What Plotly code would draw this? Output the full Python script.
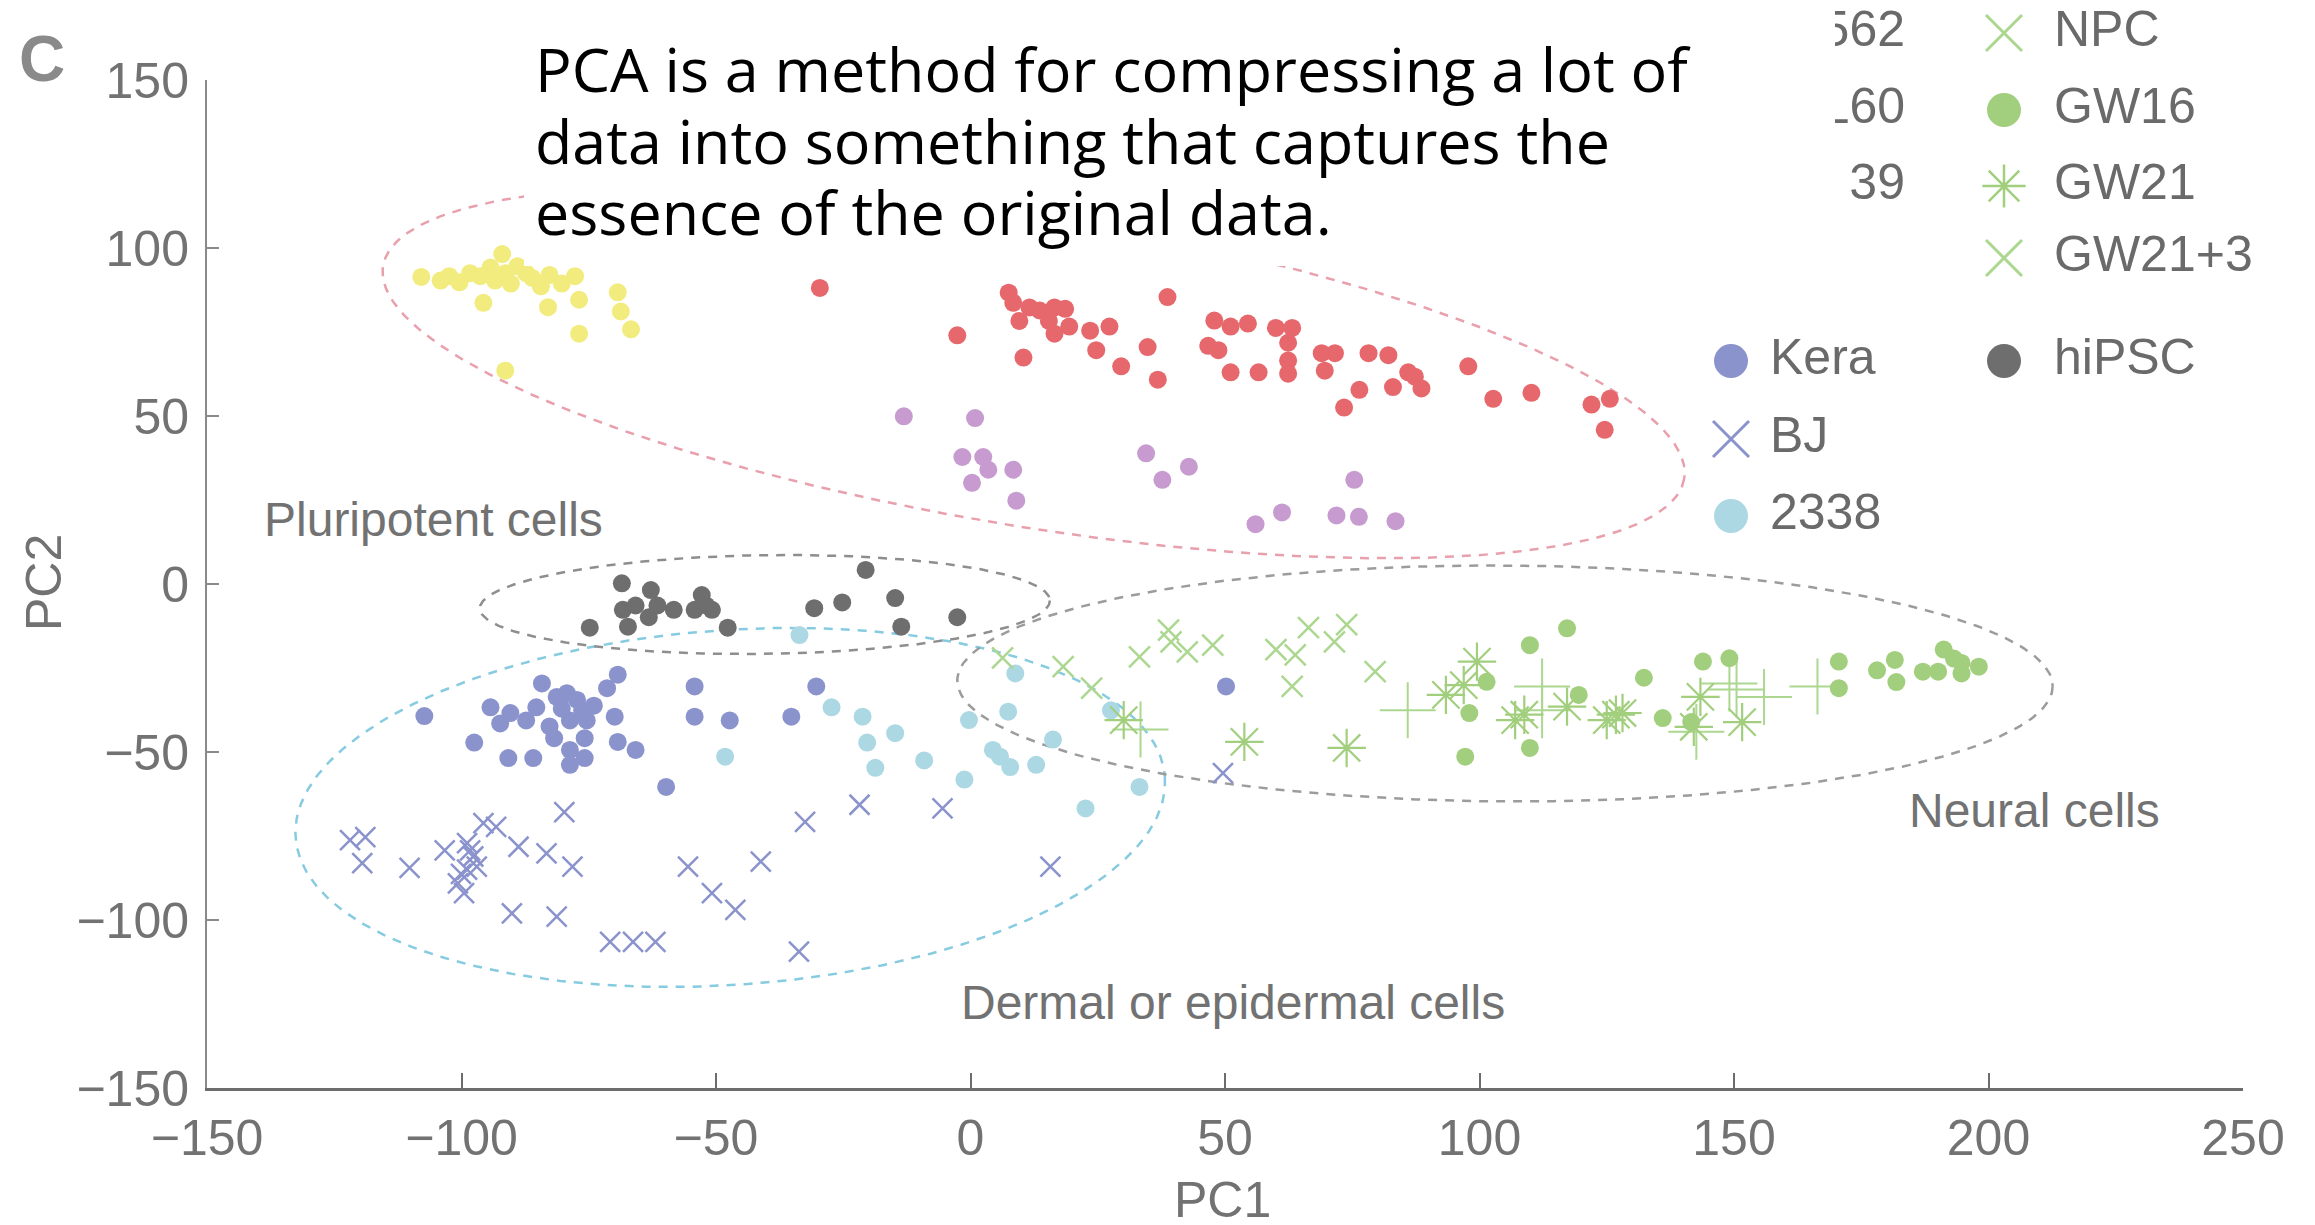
import numpy as np
import plotly.graph_objects as go

# ---------------- data ----------------
k562_x = [-107.9, -102.4, -100.4, -96.3, -95.7, -94.3, -92.0, -91.4, -90.3, -87.3, -84.4, -83.0, -80.3,
          -77.7, -76.9, -76.9, -69.3, -68.7, -66.7, -91.4, -89.0, -98.3, -93.4, -104.1, -86.1, -82.7]
k562_y = [91.4, 91.6, 89.8, 91.6, 83.7, 94.2, 98.2, 92.5, 89.4, 92.5, 88.6, 82.4, 89.4,
          91.6, 84.6, 74.5, 86.8, 81.1, 75.8, 63.5, 94.6, 92.5, 90.3, 90.3, 91.1, 92.0]

hl60_x = [-29.6, -2.6, 7.5, 8.4, 11.6, 13.6, 16.5, 18.6, 9.6, 15.4, 19.4, 10.4, 16.5, 23.5, 24.7, 29.6,
          27.3, 34.8, 36.8, 38.7, 47.9, 51.1, 54.5, 60.0, 63.2, 46.7, 48.7, 51.1, 56.6, 62.4, 62.4, 62.4,
          69.0, 71.6, 69.6, 78.2, 82.1, 76.4, 73.4, 83.0, 86.0, 87.3, 88.6, 97.8, 102.7, 110.2, 122.0,
          125.6, 124.6]
hl60_y = [88.1, 74.0, 86.7, 83.7, 82.3, 81.4, 82.3, 81.9, 78.3, 78.3, 76.6, 67.4, 74.5, 75.4, 69.6, 64.8,
          76.6, 70.5, 60.8, 85.4, 78.4, 76.6, 77.5, 76.2, 76.2, 70.9, 69.6, 63.0, 63.0, 71.8, 66.5, 62.6,
          68.7, 68.7, 63.5, 68.7, 68.1, 57.8, 52.5, 58.6, 63.0, 61.7, 58.2, 64.8, 55.1, 56.9, 53.4,
          55.1, 45.9]

hues39_x = [-13.1, 0.9, -1.6, 2.5, 3.5, 0.3, 8.4, 9.0, 34.5, 42.9, 37.7, 75.4, 56.0, 61.2, 71.9, 76.3, 83.5]
hues39_y = [49.9, 49.4, 37.8, 37.8, 34.0, 30.1, 34.0, 24.8, 38.9, 34.9, 31.0, 31.0, 17.8, 21.3, 20.4, 20.0, 18.7]

hipsc_x = [-74.8, -68.5, -62.8, -68.3, -65.8, -63.2, -58.3, -52.8, -54.2, -50.8, -47.7, -67.3, -30.7,
           -25.2, -20.6, -14.8, -13.6, -2.6, -51.9, -61.5]
hipsc_y = [-13.0, 0.2, -1.8, -7.7, -6.4, -9.9, -7.7, -3.3, -7.7, -7.7, -13.0, -12.7, -7.2,
           -5.5, 4.2, -4.2, -12.7, -9.9, -6.4, -6.4]

kera_x = [-107.3, -94.3, -90.4, -92.4, -87.3, -84.2, -85.3, -81.3, -79.3, -77.3, -76.3, -78.7, -75.4,
          -71.4, -69.3, -69.9, -97.5, -90.8, -85.9, -81.8, -78.7, -75.8, -78.7, -75.8, -69.3, -65.8,
          -59.8, -54.2, -54.2, -47.3, -35.2, -30.3, 50.2, -80.3, -82.7, -74.0]
kera_y = [-39.3, -36.7, -38.4, -41.5, -40.6, -29.6, -36.7, -33.6, -32.5, -34.5, -37.6, -40.6, -40.6,
          -31.0, -27.0, -39.5, -47.2, -51.8, -51.8, -45.9, -49.4, -45.9, -53.8, -51.8, -47.0, -49.4,
          -60.4, -30.5, -39.5, -40.6, -39.5, -30.5, -30.5, -37.1, -42.4, -36.2]

bj_x = [-121.9, -118.9, -119.5, -110.2, -103.3, -98.9, -98.3, -98.9, -100.7, -99.5, -97.0, -95.7, -93.2,
        -88.8, -83.3, -78.2, -79.8, -90.1, -81.3, -70.8, -66.3, -61.9, -55.5, -50.8, -46.2, -41.2,
        -32.5, -33.7, -21.8, -5.5, 15.7, 49.6, -100.1, -97.7]
bj_y = [-76.2, -75.3, -83.1, -84.5, -79.3, -77.1, -79.3, -85.0, -89.1, -92.0, -84.1, -71.2, -72.3,
        -78.2, -80.2, -84.1, -67.9, -98.0, -99.0, -106.5, -106.5, -106.5, -84.1, -92.0, -97.0, -82.6,
        -70.8, -109.4, -65.7, -66.8, -84.1, -56.3, -86.3, -81.1]

c2338_x = [-33.6, -48.2, -27.3, -21.2, -20.3, -14.8, -18.7, -9.1, -1.2, -0.3, 4.4, 5.8, 7.8, 12.9,
           7.4, 8.8, 16.2, 33.2, 22.6, 27.6]
c2338_y = [-15.2, -51.4, -36.7, -39.5, -47.2, -44.4, -54.7, -52.5, -58.2, -40.5, -49.4, -51.4, -54.5,
           -53.8, -38.0, -26.6, -46.3, -60.4, -66.8, -37.6]

npc_x = [6.3, 18.2, 23.8, 33.2, 38.9, 39.4, 42.6, 47.6, 60.0, 63.8, 63.2, 66.4, 71.5, 73.9, 79.5]
npc_y = [-22.0, -24.6, -31.0, -21.7, -13.7, -17.2, -20.2, -18.2, -19.5, -21.1, -30.5, -13.0, -17.2,
         -12.1, -26.1]

gw16_x = [117.2, 109.9, 101.4, 98.0, 97.2, 109.9, 119.5, 132.3, 143.9, 149.1, 136.0, 141.6, 170.6,
          170.6, 178.1, 181.6, 181.9, 187.1, 190.1, 191.2, 193.2, 194.7, 194.7, 198.1]
gw16_y = [-13.2, -18.2, -29.1, -38.4, -51.4, -48.8, -33.0, -27.9, -23.1, -22.1, -39.9, -41.1, -23.1,
          -31.0, -25.7, -22.6, -29.2, -26.1, -26.1, -19.5, -22.2, -23.5, -26.6, -24.6]

gw21_x = [30.1, 53.8, 73.9, 93.4, 96.9, 99.5, 107.0, 108.8, 117.2, 125.0, 126.8, 128.1, 143.4, 142.1, 151.6]
gw21_y = [-40.5, -47.0, -48.8, -33.0, -30.1, -23.1, -40.5, -38.9, -36.5, -40.5, -38.9, -38.4, -33.6,
          -42.5, -41.1]

gw213_x = [33.4, 85.9, 112.3, 112.3, 149.1, 150.5, 155.9, 166.4, 142.6]
gw213_y = [-43.3, -37.6, -30.5, -37.6, -29.6, -31.4, -33.6, -30.5, -44.0]

x_ticks = [-150, -100, -50, 0, 50, 100, 150, 200, 250]
y_ticks = [-150, -100, -50, 0, 50, 100, 150]

cluster_labels = ["Pluripotent cells", "Neural cells", "Dermal or epidermal cells"]
cluster_label_x = [-105.6, 209.1, 51.6]
cluster_label_y = [19.1, -67.4, -124.5]

note_lines = ["PCA is a method for compressing a lot of",
              "data into something that captures the",
              "essence of the original data."]

legend_labels = ["K562", "HL60", "HUES 39", "Kera", "BJ", "2338", "NPC", "GW16", "GW21", "GW21+3", "hiPSC"]

# ---------------- layout geometry (figure pixels) ----------------
W, H = 2315, 1225
PX_L, PX_R, PX_T, PX_B = 207, 2243, 80, 1088      # plot-area edges
XR = [-150, 250]
YR = [-150, 150]
KX = (PX_R - PX_L) / (XR[1] - XR[0])
KY = (PX_B - PX_T) / (YR[1] - YR[0])

FONT = "Liberation Sans, Arial, Helvetica, sans-serif"
GREY_TXT = "#727272"

C_YEL = "#f1ec7d"
C_RED = "#e6686c"
C_PUR = "#c79bcf"
C_GRY = "#6e6e6e"
C_KER = "#8b93cd"
C_338 = "#acd8e4"
C_NPC = "#acd790"
C_GRN = "#a2cf7e"

fig = go.Figure()


def ellipse(cx, cy, rx, ry, ang):
    t = np.linspace(0, 2 * np.pi, 400)
    a, b = rx * KX, ry * KY
    th = np.deg2rad(ang)
    u, v = a * np.cos(t), b * np.sin(t)
    dx = u * np.cos(th) - v * np.sin(th)
    dy = u * np.sin(th) + v * np.cos(th)
    return cx + dx / KX, cy - dy / KY


ellipses = [
    (12.4, 63.0, 129.5, 46.0, 9.28, "#e9a0ad"),
    (-47.2, -66.5, 85.6, 52.8, -3.96, "#86cbe0"),
    (-40.4, -6.1, 56.0, 14.7, -0.8, "#8e8e8e"),
    (105.0, -29.6, 107.6, 35.1, 0.3, "#9c9c9c"),
]
for cx, cy, rx, ry, ang, col in ellipses:
    ex, ey = ellipse(cx, cy, rx, ry, ang)
    fig.add_trace(go.Scatter(x=ex, y=ey, mode="lines", hoverinfo="skip",
                             line=dict(color=col, width=2.5, dash="9px,8px")))


def pts(x, y, color, symbol="circle", size=18, lw=0):
    if symbol == "circle":
        m = dict(symbol="circle", size=size, color=color, line=dict(width=0))
    else:
        m = dict(symbol=symbol, size=size, color=color, line=dict(color=color, width=lw))
    fig.add_trace(go.Scatter(x=x, y=y, mode="markers", marker=m, hoverinfo="skip"))


pts(k562_x, k562_y, C_YEL)
pts(hl60_x, hl60_y, C_RED)
pts(hues39_x, hues39_y, C_PUR)
pts(c2338_x, c2338_y, C_338)
pts(hipsc_x, hipsc_y, C_GRY)
pts(kera_x, kera_y, C_KER)
pts(bj_x, bj_y, C_KER, "x-thin", 20, 2.5)
pts(npc_x, npc_y, C_NPC, "x-thin", 21, 2.5)
pts(gw213_x, gw213_y, C_NPC, "cross-thin", 40, 2)
pts(gw21_x, gw21_y, C_GRN, "asterisk", 32, 2.2)
pts(gw16_x, gw16_y, C_GRN)

# ---------------- manual legend (drawn on a full-figure pixel axis pair) ----------------
legend_style = [
    # color, symbol, marker px-x, text px-x, row px-y, text side
    (C_YEL, "circle", 1720, 1905, 33, "left"),
    (C_RED, "circle", 1720, 1905, 110, "left"),
    (C_PUR, "circle", 1720, 1905, 186, "left"),
    (C_KER, "circle", 1731, 1770, 361, "right"),
    (C_KER, "x-thin", 1731, 1770, 439, "right"),
    (C_338, "circle", 1731, 1770, 516, "right"),
    (C_NPC, "x-thin", 2004, 2054, 33, "right"),
    (C_GRN, "circle", 2004, 2054, 110, "right"),
    (C_GRN, "asterisk", 2004, 2054, 186, "right"),
    (C_NPC, "x-thin", 2004, 2054, 258, "right"),
    (C_GRY, "circle", 2004, 2054, 361, "right"),
]
for lab, (col, sym, mx, tx, ry, side) in zip(legend_labels, legend_style):
    if sym == "circle":
        m = dict(symbol="circle", size=34, color=col, line=dict(width=0))
    elif sym == "asterisk":
        m = dict(symbol=sym, size=36, color=col, line=dict(color=col, width=2.5))
    else:
        m = dict(symbol=sym, size=36, color=col, line=dict(color=col, width=3))
    fig.add_trace(go.Scatter(x=[mx], y=[ry], xaxis="x2", yaxis="y2", mode="markers", marker=m,
                             hoverinfo="skip"))
    fig.add_trace(go.Scatter(x=[tx], y=[ry], xaxis="x2", yaxis="y2", mode="text", text=[lab],
                             textposition="middle " + side,
                             textfont=dict(family=FONT, size=50, color="#6a6a6a"),
                             hoverinfo="skip"))

# ---------------- annotations ----------------
def fx(px):
    return px / W


def fy(py):
    return 1 - py / H


ann = []
for t, x, y in zip(cluster_labels, cluster_label_x, cluster_label_y):
    ann.append(dict(x=x, y=y, xref="x", yref="y", text=t, showarrow=False,
                    xanchor="center", yanchor="middle",
                    font=dict(family=FONT, size=48, color=GREY_TXT)))

ann.append(dict(x=fx(1222), y=fy(1200), xref="paper", yref="paper", text="PC1", showarrow=False,
                xanchor="center", yanchor="middle", font=dict(family=FONT, size=50, color=GREY_TXT)))
ann.append(dict(x=fx(44), y=fy(583), xref="paper", yref="paper", text="PC2", showarrow=False,
                xanchor="center", yanchor="middle", textangle=-90,
                font=dict(family=FONT, size=50, color=GREY_TXT)))
ann.append(dict(x=fx(42), y=fy(59), xref="paper", yref="paper", text="<b>C</b>", showarrow=False,
                xanchor="center", yanchor="middle", font=dict(family=FONT, size=64, color="#8a8a8a")))

note_tops = [25, 97, 168]
for line, top in zip(note_lines, note_tops):
    ann.append(dict(x=fx(533), y=fy(top), xref="paper", yref="paper", xanchor="left", yanchor="top",
                    align="left", text=line, showarrow=False,
                    font=dict(family="Open Sans, Noto Sans, sans-serif", size=61, color="#000000")))

shapes = [dict(type="rect", xref="paper", yref="paper", x0=fx(524), x1=fx(1835),
               y0=fy(266), y1=1.05, fillcolor="white", line=dict(width=0), layer="above")]

fig.update_layout(
    width=W, height=H,
    margin=dict(l=0, r=0, t=0, b=0, pad=0, autoexpand=False),
    paper_bgcolor="white", plot_bgcolor="rgba(0,0,0,0)",
    showlegend=False,
    font=dict(family=FONT, color=GREY_TXT),
    annotations=ann, shapes=shapes,
    xaxis=dict(domain=[fx(PX_L), fx(PX_R)], range=XR, tickvals=x_ticks, showgrid=False, zeroline=False,
               showline=True, linecolor="#6c6c6c", linewidth=3, automargin=False, anchor="y",
               ticks="inside", ticklen=15, tickwidth=2, tickcolor="#6c6c6c",
               tickfont=dict(family=FONT, size=50, color=GREY_TXT), ticklabelstandoff=4),
    yaxis=dict(domain=[fy(PX_B), fy(PX_T)], range=YR, tickvals=y_ticks, showgrid=False, zeroline=False,
               showline=True, linecolor="#8a8a8a", linewidth=2, automargin=False, anchor="x",
               ticks="inside", ticklen=12, tickwidth=2, tickcolor="#8a8a8a",
               tickfont=dict(family=FONT, size=50, color=GREY_TXT), ticklabelstandoff=6),
    xaxis2=dict(domain=[0, 1], range=[0, W], visible=False, fixedrange=True, anchor="y2",
                automargin=False),
    yaxis2=dict(domain=[0, 1], range=[H, 0], visible=False, fixedrange=True, anchor="x2",
                automargin=False),
)

fig.write_html("out.html")
